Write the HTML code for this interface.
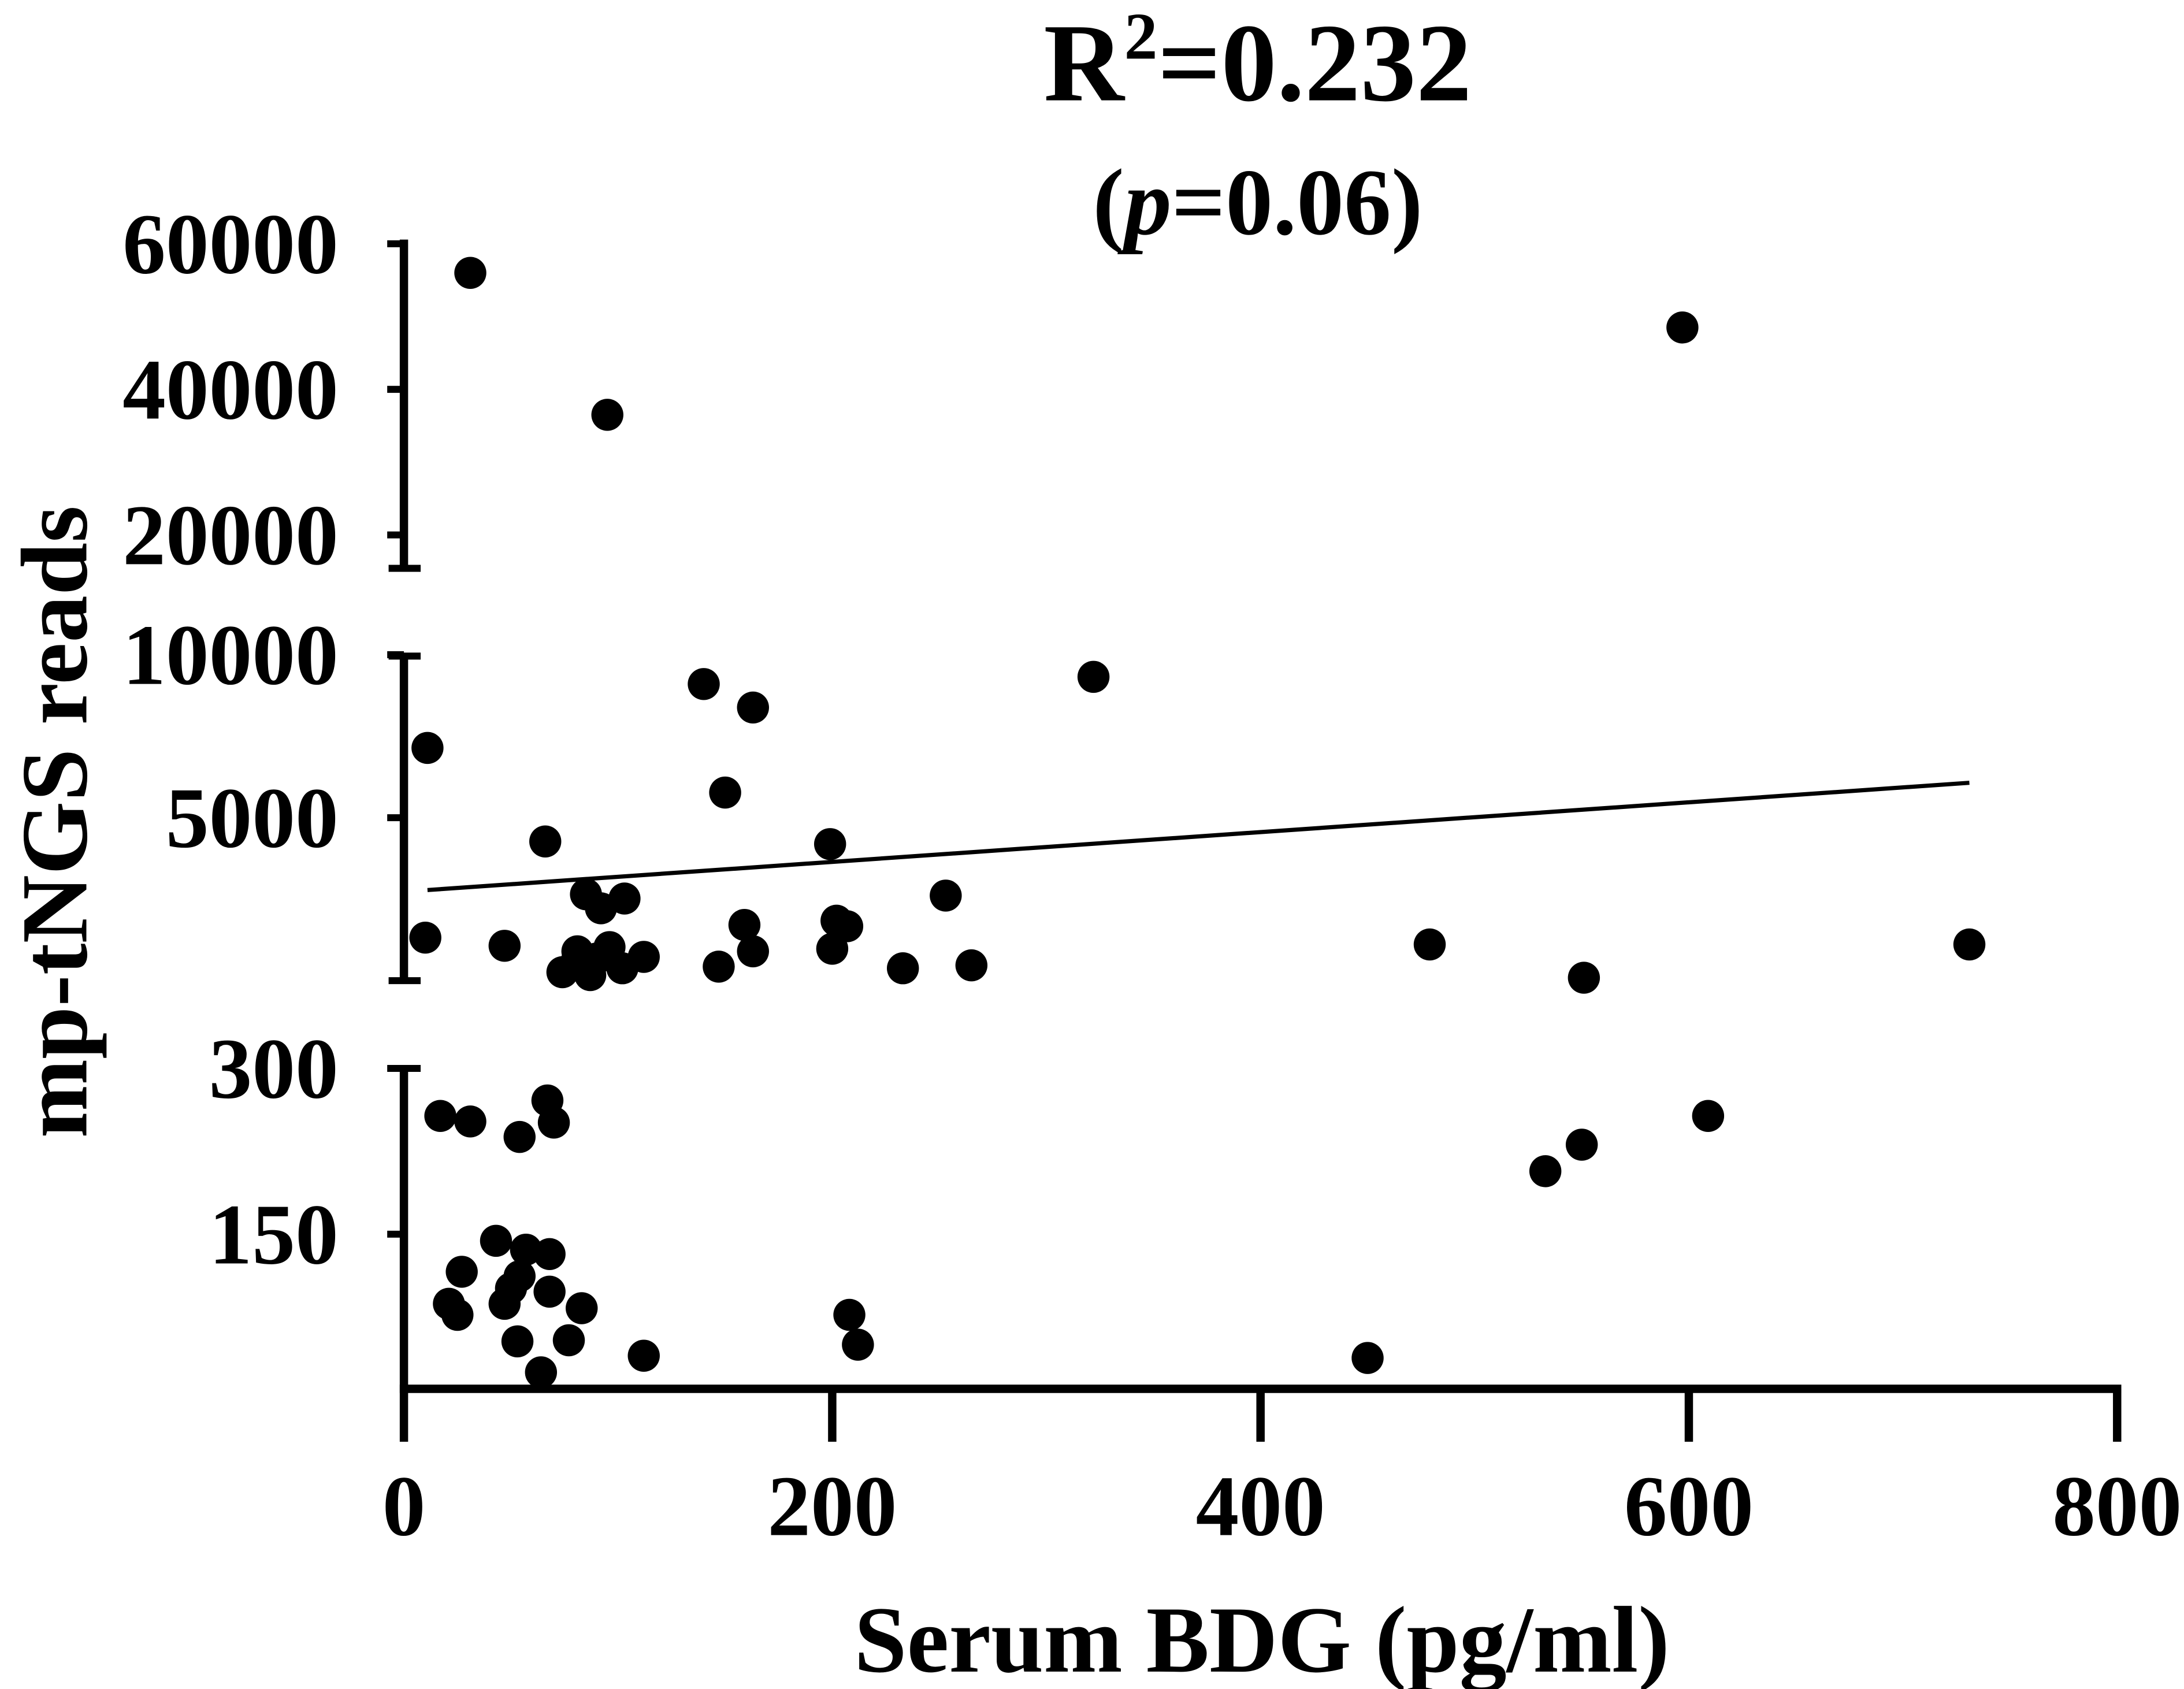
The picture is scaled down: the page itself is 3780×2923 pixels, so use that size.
<!DOCTYPE html>
<html><head><meta charset="utf-8"><style>
html,body{margin:0;padding:0;background:#fff}
svg{display:block}
text{font-family:"Liberation Serif",serif;font-weight:bold;fill:#000}
</style></head><body>
<svg id="chart" width="3780" height="2923" viewBox="0 0 1568 1212.5" xmlns="http://www.w3.org/2000/svg">
<g id="axes"></g>
<g id="marks"></g>
<text x="903" y="72" font-size="80" text-anchor="middle">R<tspan font-size="48" dy="-30">2</tspan><tspan dy="30">=0.232</tspan></text>
<text x="903" y="168" font-size="68" text-anchor="middle">(<tspan font-style="italic">p</tspan>=0.06)</text>
<text x="906" y="1200" font-size="68" text-anchor="middle">Serum BDG (pg/ml)</text>
<text transform="translate(62,590) rotate(-90)" font-size="68" text-anchor="middle">mp-tNGS reads</text>
</svg>
<script>
const xsTop = [31,95,597];
const ysTop = [56000,36500,48500];
const xsMid = [11,140,163,322,150,66,199,253,10,47,85,92,103,81,74,80,87,96,102,112,90,159,163,147,202,207,200,233,265,479,551,731];
const ysMid = [7140,9100,8380,9320,5770,4270,4190,2610,1320,1070,2650,2220,2520,900,260,510,170,1030,380,730,680,1710,900,430,1840,1670,980,380,470,1110,90,1110];
const xsLow = [17,31,54,67,70,43,57,68,27,21,25,47,54,50,68,83,53,77,64,112,208,212,450,533,550,609];
const ysLow = [257,252,238,271,251,144,136,132,116,87,77,87,112,101,98,83,53,54,25,40,77,50,38,207,231,257];
const xTicks = [0,200,400,600,800];
const yTicksTop = [60000,40000,20000];
const yTicksMid = [10000,5000];
const yTicksLow = [300,150];
const fitIntercept = 2730, fitSlope = 4.57, fitRange = [11,731];

const NS="http://www.w3.org/2000/svg";
function X(v){return 290+v*1.5375;}
function Ytop(v){return 175+(60000-v)/20000*104.5;}
function Ymid(v){return 704-v/5000*117;}
function Ylow(v){return 767+(300-v)/150*119;}
function mk(tag,attrs,parent){const e=document.createElementNS(NS,tag);for(const k in attrs)e.setAttribute(k,attrs[k]);parent.appendChild(e);return e;}
const axes=document.getElementById('axes'), marks=document.getElementById('marks');
const st={stroke:'#000','stroke-width':6,fill:'none'};
let l;
l=mk('line',Object.assign({x1:290,y1:172,x2:290,y2:408},st),axes);


l=mk('line',Object.assign({x1:290,y1:471,x2:290,y2:704},st),axes);


l=mk('line',Object.assign({x1:290,y1:767,x2:290,y2:997},st),axes);


[408,471,704,767].forEach(y=>{
  const c=mk('line',{x1:279,y1:y,x2:302,y2:y,stroke:'#000','stroke-width':5},axes);
  
  
});
l=mk('line',Object.assign({x1:287,y1:997,x2:X(800)+3,y2:997},st),axes);


function ytick(v,y){
  const t=mk('line',{x1:278,y1:y,x2:290,y2:y,stroke:'#000','stroke-width':5},axes);
  
  
  const tx=mk('text',{x:243,y:y+21,'font-size':62,'text-anchor':'end'},axes);
  tx.textContent=v;
  
  
}
yTicksTop.forEach(v=>ytick(v,Ytop(v)));
yTicksMid.forEach(v=>ytick(v,Ymid(v)));
yTicksLow.forEach(v=>ytick(v,Ylow(v)));
xTicks.forEach(v=>{
  const t=mk('line',Object.assign({x1:X(v),y1:997,x2:X(v),y2:1035},st),axes);
  
  
  const tx=mk('text',{x:X(v),y:1102,'font-size':62,'text-anchor':'middle'},axes);
  tx.textContent=v;
  
  
});
const fl=mk('line',{x1:X(fitRange[0]),y1:Ymid(fitIntercept+fitSlope*fitRange[0]),x2:X(fitRange[1]),y2:Ymid(fitIntercept+fitSlope*fitRange[1]),stroke:'#000','stroke-width':3},marks);


function dots(xs,ys,yf){
  xs.forEach((x,i)=>{
    const c=mk('circle',{cx:X(x),cy:yf(ys[i]),r:11.5,fill:'#000'},marks);
    
    
  });
}
dots(xsTop,ysTop,Ytop);
dots(xsMid,ysMid,Ymid);
dots(xsLow,ysLow,Ylow);
</script>
</body></html>
